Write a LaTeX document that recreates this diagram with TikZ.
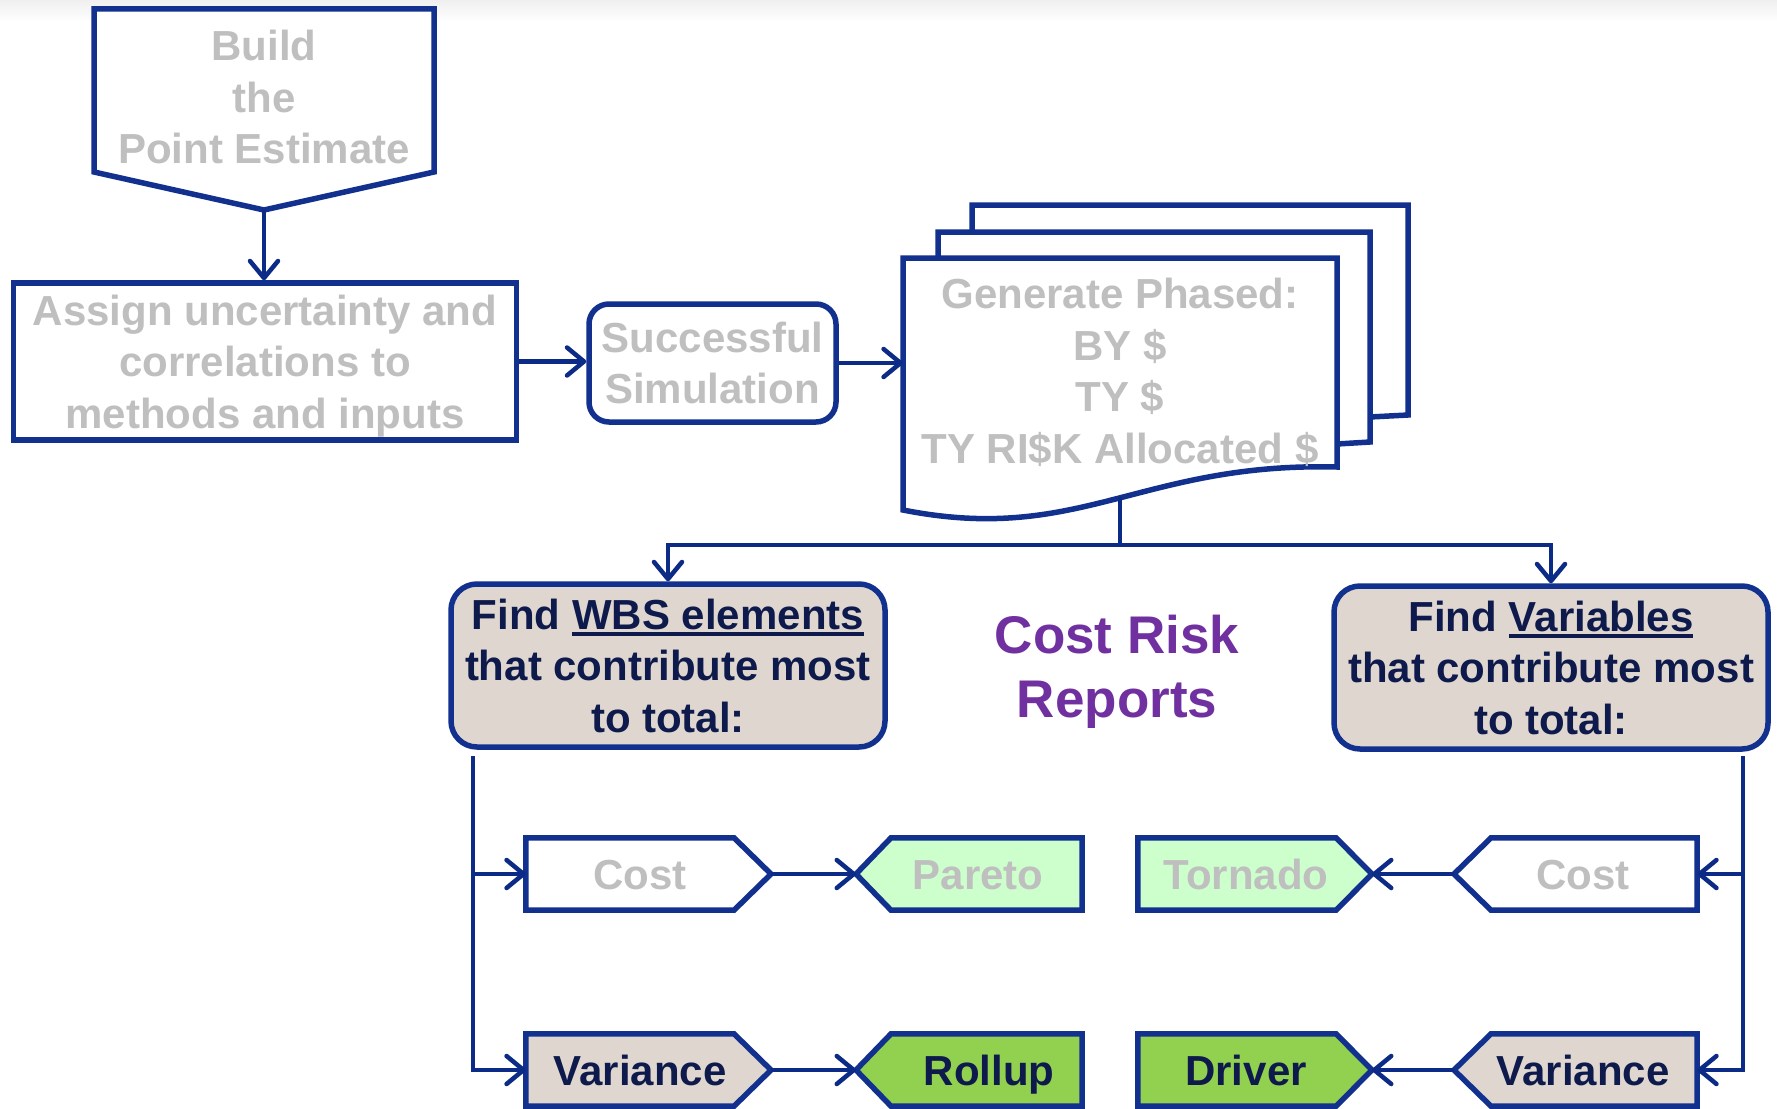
\documentclass[tikz,border=0pt]{standalone}
\usepackage{fontspec}
\setmainfont{Liberation Sans}
\usetikzlibrary{arrows.meta,backgrounds,calc}

\definecolor{edge}{HTML}{12318F}
\definecolor{wirecol}{HTML}{0B2B86}
\definecolor{mutedtext}{HTML}{BFBFBF}
\definecolor{inktext}{HTML}{0E1A4C}
\definecolor{sand}{HTML}{DFD7CF}
\definecolor{mint}{HTML}{CCFFCC}
\definecolor{leaf}{HTML}{92D050}
\definecolor{plum}{HTML}{7030A0}

% underline with a heavy rule
\newcommand{\ulword}[1]{\vtop{\hbox{#1}\kern2.5pt\hrule height 4.5pt}}

% pentagon tags around a text node: node, corner x, tip coordinate, fill
\newcommand{\tagright}[4]{\filldraw[outline, fill=#4] (#1.north west) -- (#2,0 |- #1.north) -- (#3) -- (#2,0 |- #1.south) -- (#1.south west) -- cycle;}
\newcommand{\tagleft}[4]{\filldraw[outline, fill=#4] (#1.north east) -- (#2,0 |- #1.north) -- (#3) -- (#2,0 |- #1.south) -- (#1.south east) -- cycle;}

\tikzset{
  every node/.style={font=\fontsize{42}{51.5}\selectfont\bfseries, align=center, inner sep=0pt},
  box/.style={draw=edge, line width=5.5pt, fill=white, text=mutedtext},
  roundbox/.style={box, rounded corners=20pt},
  findbox/.style={draw=edge, line width=5.5pt, fill=sand, text=inktext, rounded corners=26pt},
  tag/.style={minimum height=72pt, text height=30pt, text depth=0pt},
  outline/.style={draw=edge, line width=5.5pt, line join=miter},
  wire/.style={draw=wirecol, line width=4.5pt, -{Straight Barb[length=17pt,width=28pt,round]}},
  plainwire/.style={draw=wirecol, line width=4.5pt},
}

\begin{document}
\begin{tikzpicture}[x=1pt,y=-1pt]
\path[use as bounding box] (0,0) rectangle (1777,1108);
\begin{scope}[on background layer]
  \fill[white] (0,0) rectangle (1777,1108);
  \shade[top color=black!6, bottom color=white] (0,0) rectangle (1777,22);
\end{scope}

% build the point estimate (downward pentagon)
\filldraw[outline, fill=white] (94,9) -- (434,9) -- (434,172) -- (264,210) -- (94,172) -- cycle;
\coordinate (buildtip) at (264,210);
\node[text=mutedtext] (build) at (264,97) {Build\\the\\Point Estimate};

% first row
\node[box, minimum width=503pt, minimum height=157pt, text depth=0pt] (assign) at (265,361.5)
  {Assign uncertainty and\\correlations to\\methods and inputs};
\node[roundbox, minimum width=247pt, minimum height=118pt] (sim) at (712.5,363)
  {Successful\\Simulation};

% stacked documents
\draw[outline] (972,232) -- (972,205) -- (1408,205) -- (1408,415) -- (1370,417);
\draw[outline] (938,258) -- (938,232) -- (1370,232) -- (1370,442) -- (1337,444);
\filldraw[outline, fill=white] (903,258) -- (1337,258) -- (1337,467)
  .. controls (1140,462) and (1080,545) .. (903,510) -- cycle;
\node[text=mutedtext, minimum width=434pt] (doc) at (1120,372.5)
  {Generate Phased:\\BY \$\\TY \$\\TY RI\$K Allocated \$};

\draw[wire] (buildtip) -- (buildtip |- assign.north);
\draw[wire] (assign.east) -- (assign.east -| sim.west);
\draw[wire] (sim.east) -- (sim.east -| doc.west);

% report finders
\node[findbox, minimum width=434pt, minimum height=163pt] (findL) at (668,665.5)
  {Find \ulword{WBS elements}\\that contribute most\\to total:};
\node[findbox, minimum width=434pt, minimum height=163pt] (findR) at (1551,667.5)
  {Find \ulword{Variables}\\that contribute most\\to total:};
\node[text=plum, font=\fontsize{53}{64}\selectfont\bfseries] (title) at (1117,671.5)
  {Cost Risk\\Reports};

\coordinate (docbot) at (1120,497);
\coordinate (split) at (1120,545);
\draw[plainwire] (docbot) -- (split);
\draw[wire] (split) -| (findL.north);
\draw[wire] (split) -| (findR.north);

% report tags (each node spans from its flat side to its text centre and back)
\node[tag, minimum width=228pt, text=mutedtext] (costL) at (640,874) {Cost};
\node[tag, minimum width=208pt, text=mutedtext] (pareto) at (978,874) {Pareto};
\node[tag, minimum width=216pt, text=mutedtext] (tornado) at (1246,874) {Tornado};
\node[tag, minimum width=228pt, text=mutedtext] (costR) at (1583,874) {Cost};
\node[tag, minimum width=228pt, text=inktext] (varL) at (640,1070) {Variance};
\node[tag, minimum width=186pt, text=inktext] (rollup) at (989,1070) {Rollup};
\node[tag, minimum width=216pt, text=inktext] (driver) at (1246,1070) {Driver};
\node[tag, minimum width=228pt, text=inktext] (varR) at (1583,1070) {Variance};

\coordinate (costLtip) at (771,874);
\coordinate (varLtip) at (771,1070);
\coordinate (paretotip) at (856,874);
\coordinate (rolluptip) at (856,1070);
\coordinate (tornadotip) at (1372,874);
\coordinate (drivertip) at (1372,1070);
\coordinate (costRtip) at (1454,874);
\coordinate (varRtip) at (1454,1070);

\begin{scope}[on background layer]
  \tagright{costL}{734}{costLtip}{white}
  \tagright{varL}{734}{varLtip}{sand}
  \tagleft{pareto}{891}{paretotip}{mint}
  \tagleft{rollup}{891}{rolluptip}{leaf}
  \tagright{tornado}{1336}{tornadotip}{mint}
  \tagright{driver}{1336}{drivertip}{leaf}
  \tagleft{costR}{1491}{costRtip}{white}
  \tagleft{varR}{1491}{varRtip}{sand}
\end{scope}

\draw[wire] (costLtip) -- (paretotip);
\draw[wire] (varLtip) -- (rolluptip);
\draw[wire] (costRtip) -- (tornadotip);
\draw[wire] (varRtip) -- (drivertip);

% branch buses
\coordinate (busL) at (473,756);
\coordinate (busR) at (1743,756);
\draw[wire] (busL) |- (varL.west);
\draw[wire] (busL |- costL.west) -- (costL.west);
\draw[wire] (busR) |- (varR.east);
\draw[wire] (busR |- costR.east) -- (costR.east);
\end{tikzpicture}
\end{document}
